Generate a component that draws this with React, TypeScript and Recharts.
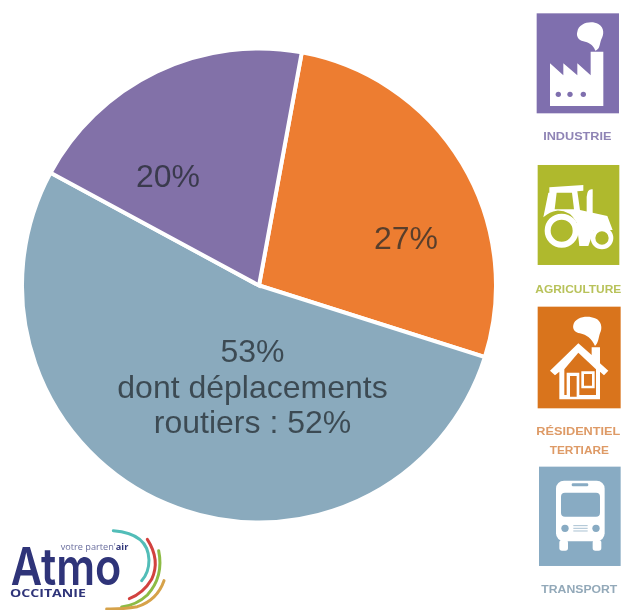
import React from "react";
import { PieChart, Pie, Cell } from "recharts";

// Share of emissions by sector, clockwise from the orange slice
const sectors = ["Résidentiel tertiaire", "Transport", "Industrie"];
const shares = [27, 53, 20];
const sliceColors = ["#ED7D31", "#8AAABD", "#8271A8"];
const transportNote = ["dont déplacements", "routiers : 52%"];

const pieData = sectors.map((name, i) => ({ name, value: shares[i] }));

const W = 623;
const H = 610;
const LABEL_FONT = "'Liberation Sans', Arial, sans-serif";

// Label anchors relative to the pie centre, by slice
const labelShift = [
  { dx: 147, dy: -36.5 },
  { dx: -6.5, dy: 76.5 },
  { dx: -91, dy: -99 },
];

function SliceLabel(props: any) {
  const { cx, cy, index, value } = props;
  const { dx, dy } = labelShift[index];
  const x = cx + dx;
  const y = cy + dy;
  const common = {
    textAnchor: "middle" as const,
    fontFamily: LABEL_FONT,
    fontSize: 32,
    fill: "#1f2529",
    fillOpacity: 0.72,
    style: { filter: "blur(0.4px)" },
  };
  return (
    <g>
      <text x={x} y={y} {...common}>{`${value}%`}</text>
      {index === 1 &&
        transportNote.map((line, i) => (
          <text key={line} x={x} y={y + 35.5 * (i + 1)} {...common}>
            {line}
          </text>
        ))}
    </g>
  );
}

// Pictograms are drawn on a 3x grid, then scaled down
function Icon({ ox, oy, children }: { ox: number; oy: number; children: React.ReactNode }) {
  return <g transform={`translate(${ox} ${oy}) scale(0.3333)`}>{children}</g>;
}

function SectorKey() {
  const caption = {
    fontFamily: "'Liberation Sans', Arial, sans-serif",
    fontWeight: 700,
    fontSize: 31,
    textAnchor: "middle" as const,
  };
  return (
    <svg width={W} height={H} style={{ position: "absolute", left: 0, top: 0, filter: "blur(0.7px)" }}>
      {/* Industrie */}
      <Icon ox={520} oy={0}>
        <rect x={50} y={40} width={247} height={300} fill="#7F6FAE" />
        <path d="M212 155H250V318H90V190L130 226V190L172 226V190L212 226Z" fill="#fff" />
        <path d="M172 95C176 68 215 60 235 72C254 82 252 105 244 118C238 135 240 148 226 152C218 132 205 128 190 124C175 120 168 108 172 95Z" fill="#fff" />
        {[115, 150, 190].map((x) => (
          <circle key={x} cx={x} cy={283} r={8} fill="#7F6FAE" />
        ))}
        <text x={172} y={421} fill="#8F84B5" textLength={205} lengthAdjust="spacingAndGlyphs" {...caption}>
          INDUSTRIE
        </text>
      </Icon>

      {/* Agriculture */}
      <Icon ox={520} oy={0}>
        <rect x={53} y={495} width={245} height={300} fill="#AFB92D" />
        <path d="M88 562L190 555V572L172 574L180 630L262 648L278 690H222L205 738H178L170 668Q150 630 110 632Q90 634 70 652L85 578H88Z" fill="#fff" />
        <path d="M110 578H156L162 628H104Z" fill="#AFB92D" />
        <path d="M200 640V590Q202 565 218 568V645Z" fill="#fff" />
        <circle cx={125} cy={692} r={42} fill="#AFB92D" stroke="#fff" strokeWidth={18} />
        <circle cx={246} cy={714} r={27} fill="#AFB92D" stroke="#fff" strokeWidth={14} />
        <text x={175} y={880} fill="#B8C25A" textLength={258} lengthAdjust="spacingAndGlyphs" {...caption}>
          AGRICULTURE
        </text>
      </Icon>

      {/* Résidentiel tertiaire */}
      <Icon ox={520} oy={300}>
        <rect x={53} y={20} width={249} height={305} fill="#D9741C" />
        <path d="M160 75C165 50 205 45 225 55C245 62 248 85 240 100C235 115 235 130 225 138C215 115 200 105 180 100C165 98 157 88 160 75Z" fill="#fff" />
        <path d="M175 130L215 165V142H240V190L265 212L252 226L240 215V298H118V215L105 226L90 212Z" fill="#fff" />
        <path d="M175 158L228 208V285H133V208Z" fill="#D9741C" />
        <path d="M140 218H178V290H140ZM184 214H224V265H184Z" fill="#fff" />
        <path d="M150 228H170V290H150ZM192 222H216V257H192Z" fill="#D9741C" />
        <text x={175} y={404} fill="#DE9A66" textLength={252} lengthAdjust="spacingAndGlyphs" {...caption}>
          RÉSIDENTIEL
        </text>
        <text x={178} y={463} fill="#DE9A66" textLength={178} lengthAdjust="spacingAndGlyphs" {...caption}>
          TERTIARE
        </text>
      </Icon>

      {/* Transport */}
      <Icon ox={520} oy={300}>
        <rect x={57} y={500} width={245} height={298} fill="#88ABC3" />
        <rect x={108} y={542} width={146} height={182} rx={24} fill="#fff" />
        <rect x={123} y={578} width={117} height={72} rx={12} fill="#88ABC3" />
        <rect x={155} y={550} width={50} height={9} rx={4} fill="#88ABC3" />
        <circle cx={135} cy={685} r={11} fill="#88ABC3" />
        <circle cx={228} cy={685} r={11} fill="#88ABC3" />
        <path d="M160 677H203M160 685H203M160 693H203" stroke="#A9C1D2" strokeWidth={3} />
        <rect x={118} y={720} width={26} height={32} rx={8} fill="#fff" />
        <rect x={218} y={720} width={26} height={32} rx={8} fill="#fff" />
        <text x={178} y={878} fill="#93A9B9" textLength={228} lengthAdjust="spacingAndGlyphs" {...caption}>
          TRANSPORT
        </text>
      </Icon>

      {/* Atmo Occitanie wordmark */}
      <Icon ox={0} oy={510}>
        <text x={32} y={226} fontFamily="Inter, sans-serif" fontWeight={600} fontSize={156} fill="#2F3479" textLength={332} lengthAdjust="spacingAndGlyphs">
          Atmo
        </text>
        <text x={30} y={262} fontFamily="'Open Sans', sans-serif" fontWeight={700} fontSize={34} fill="#2F3479" textLength={228} lengthAdjust="spacingAndGlyphs">
          OCCITANIE
        </text>
        <text x={182} y={121} fontFamily="'Open Sans', sans-serif" fontSize={27} fill="#6A6E9E" textLength={203} lengthAdjust="spacingAndGlyphs">
          votre parten'
          <tspan fontWeight={700} fill="#2F3479">air</tspan>
        </text>
        <g fill="none" strokeWidth={9} strokeLinecap="round">
          <path d="M340 62Q445 70 447 150Q447 188 425 212" stroke="#52BDB8" />
          <path d="M442 88Q482 150 455 208Q430 250 388 266" stroke="#D2423F" />
          <path d="M476 122Q492 200 442 255Q410 285 365 291" stroke="#8DBB45" />
          <path d="M492 212Q472 270 412 290Q370 298 320 297" stroke="#D6A24A" />
        </g>
      </Icon>
    </svg>
  );
}

export default function App() {
  return (
    <div style={{ position: "absolute", left: 0, top: 0, width: W, height: H, background: "#fff" }}>
      <PieChart width={W} height={H} margin={{ top: 0, right: 0, bottom: 0, left: 0 }}>
        <Pie
          data={pieData}
          dataKey="value"
          nameKey="name"
          cx={259}
          cy={285.5}
          innerRadius={0}
          outerRadius={237}
          startAngle={79.6}
          endAngle={-280.4}
          stroke="#ffffff"
          strokeWidth={4}
          label={SliceLabel}
          labelLine={false}
          isAnimationActive={false}
        >
          {pieData.map((d, i) => (
            <Cell key={d.name} fill={sliceColors[i]} />
          ))}
        </Pie>
      </PieChart>
      <SectorKey />
    </div>
  );
}
